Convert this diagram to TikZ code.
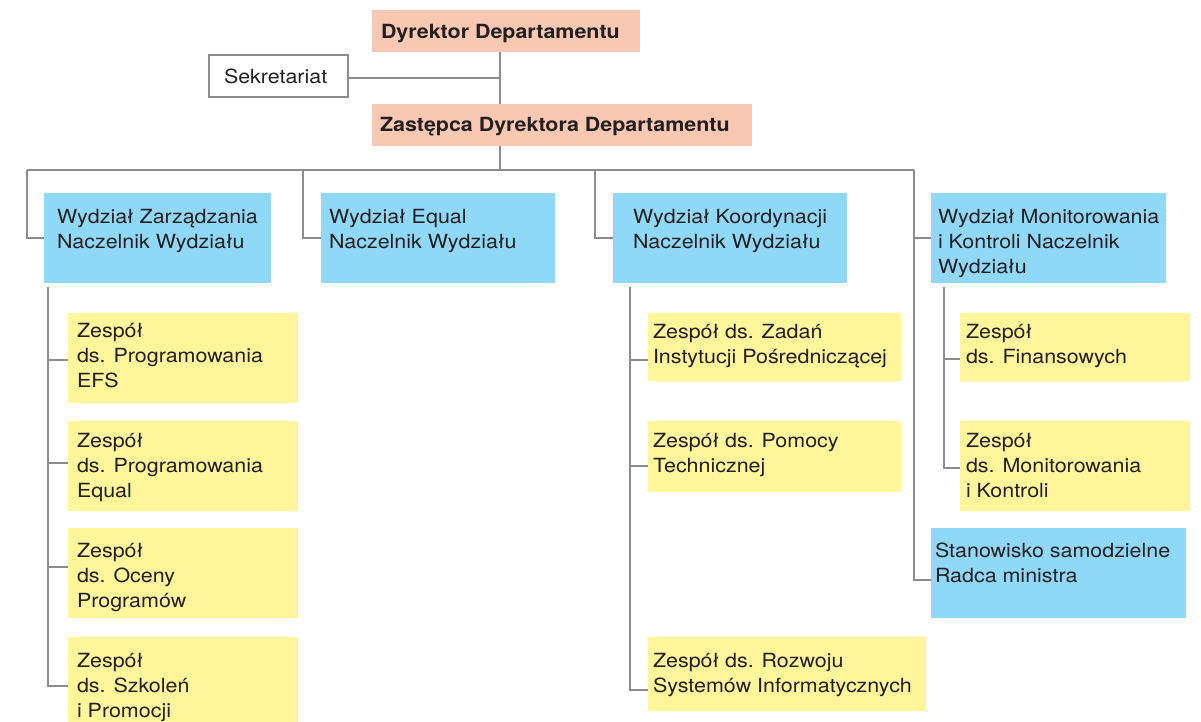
\documentclass[tikz,border=0pt]{standalone}
\usepackage{fontspec}
\setmainfont{TeX Gyre Heros}[FakeStretch=1.1]
\usetikzlibrary{calc}
\definecolor{salmon}{HTML}{F9C8B3}
\definecolor{sky}{HTML}{8FD8F7}
\definecolor{lemon}{HTML}{FFF59B}
\definecolor{linegray}{HTML}{8C8C8C}
\definecolor{ink}{HTML}{231F20}
\newcommand{\tstrut}{\rule{0pt}{18pt}}
\begin{document}
\begin{tikzpicture}[x=1pt,y=-1pt,
  boxbase/.style={anchor=north west, inner sep=0pt, outer sep=0pt},
  sbox/.style={boxbase, fill=salmon},
  bbox/.style={boxbase, fill=sky},
  ybox/.style={boxbase, fill=lemon},
  wbox/.style={boxbase, fill=white, draw=linegray, line width=1.2pt},
  txt/.style={anchor=north west, inner sep=0pt, outer sep=0pt, align=left, text=ink,
    font=\fontsize{19.5}{25}\selectfont},
  btxt/.style={txt, font=\fontsize{19.5}{25}\selectfont\bfseries},
  conn/.style={draw=linegray, line width=1.5pt}
]
\useasboundingbox (0,0) rectangle (1201,722);
\fill[white] (0,0) rectangle (1201,722);

% top level
\node[sbox, minimum width=268pt, minimum height=42pt] (dyr) at (372,10) {};
\node[btxt] (dyrt) at (381,21) {\tstrut Dyrektor Departamentu};
\node[wbox, minimum width=139pt, minimum height=42pt] (sek) at (209,55) {};
\node[txt] (sekt) at (224,66) {\tstrut Sekretariat};
\node[sbox, minimum width=380pt, minimum height=42pt] (zast) at (372,104) {};
\node[btxt] (zastt) at (380,114) {\tstrut Zastępca Dyrektora Departamentu};

% departments
\node[bbox, minimum width=227pt, minimum height=90pt] (wz) at (44,193) {};
\node[txt] (wzt) at (57,205) {\tstrut Wydział Zarządzania\\Naczelnik Wydziału};
\node[bbox, minimum width=234pt, minimum height=90pt] (we) at (321,193) {};
\node[txt] (wet) at (329,205) {\tstrut Wydział Equal\\Naczelnik Wydziału};
\node[bbox, minimum width=234pt, minimum height=90pt] (wk) at (613,193) {};
\node[txt] (wkt) at (633,205) {\tstrut Wydział Koordynacji\\Naczelnik Wydziału};
\node[bbox, minimum width=235pt, minimum height=90pt] (wm) at (931,193) {};
\node[txt] (wmt) at (938,205) {\tstrut Wydział Monitorowania\\i Kontroli Naczelnik\\Wydziału};
\node[bbox, minimum width=255pt, minimum height=90pt] (st) at (931,528) {};
\node[txt] (stt) at (935,539) {\tstrut Stanowisko samodzielne\\Radca ministra};

% column 1 teams
\node[ybox, minimum width=230pt, minimum height=90pt] (z1) at (68,313) {};
\node[txt] (z1t) at (77,319) {\tstrut Zespół\\ds. Programowania\\EFS};
\node[ybox, minimum width=230pt, minimum height=90pt] (z2) at (68,421) {};
\node[txt] (z2t) at (77,429) {\tstrut Zespół\\ds. Programowania\\Equal};
\node[ybox, minimum width=230pt, minimum height=90pt] (z3) at (68,528) {};
\node[txt] (z3t) at (77,539) {\tstrut Zespół\\ds. Oceny\\Programów};
\node[ybox, minimum width=230pt, minimum height=85pt] (z4) at (68,637) {};
\node[txt] (z4t) at (77,649) {\tstrut Zespół\\ds. Szkoleń\\i Promocji};

% column 3 teams
\node[ybox, minimum width=253pt, minimum height=68pt] (k1) at (648,313) {};
\node[txt] (k1t) at (653,320) {\tstrut Zespół ds. Zadań\\Instytucji Pośredniczącej};
\node[ybox, minimum width=253pt, minimum height=71pt] (k2) at (648,421) {};
\node[txt] (k2t) at (653,429) {\tstrut Zespół ds. Pomocy\\Technicznej};
\node[ybox, minimum width=278pt, minimum height=74pt] (k3) at (648,637) {};
\node[txt] (k3t) at (653,649) {\tstrut Zespół ds. Rozwoju\\Systemów Informatycznych};

% column 4 teams
\node[ybox, minimum width=230pt, minimum height=68pt] (m1) at (960,313) {};
\node[txt] (m1t) at (966,320) {\tstrut Zespół\\ds. Finansowych};
\node[ybox, minimum width=230pt, minimum height=90pt] (m2) at (960,421) {};
\node[txt] (m2t) at (966,429) {\tstrut Zespół\\ds. Monitorowania\\i Kontroli};

% connectors: top
\coordinate (s0) at (500,78);
\coordinate (bus) at (500,170);
\draw[conn] (dyr.south -| s0) -- (zast.north -| s0);
\draw[conn] (sek.east |- s0) -- (s0);
\draw[conn] (zast.south -| bus) -- (bus);
\coordinate (b1) at (27,170);
\coordinate (b2) at (303,170);
\coordinate (b3) at (595,170);
\coordinate (b4) at (914,170);
\draw[conn] (b1) -- (b4);
\draw[conn] (b1) |- (wz.west);
\draw[conn] (b2) |- (we.west);
\draw[conn] (b3) |- (wk.west);
\coordinate (stc) at ([yshift=-7pt]st.west);
\draw[conn] (b4) |- (stc);
\draw[conn] (b4 |- wm.west) -- (wm.west);

% column 1 connectors
\coordinate (c1) at (48,287);
\coordinate (z1c) at ([yshift=-2pt]z1.west);
\coordinate (z2c) at ([yshift=3pt]z2.west);
\coordinate (z3c) at ([yshift=6pt]z3.west);
\coordinate (z4c) at ([yshift=-6.5pt]z4.west);
\draw[conn] (c1) |- (z4c);
\draw[conn] (c1 |- z1c) -- (z1c);
\draw[conn] (c1 |- z2c) -- (z2c);
\draw[conn] (c1 |- z3c) -- (z3c);

% column 3 connectors
\coordinate (c3) at (630,287);
\coordinate (k1c) at ([yshift=-13pt]k1.west);
\coordinate (k2c) at ([yshift=-9.5pt]k2.west);
\coordinate (k3c) at ([yshift=-16pt]k3.west);
\draw[conn] (c3) |- (k3c);
\draw[conn] (c3 |- k1c) -- (k1c);
\draw[conn] (c3 |- k2c) -- (k2c);

% column 4 connectors
\coordinate (c4) at (944,287);
\coordinate (m1c) at ([yshift=-12pt]m1.west);
\coordinate (m2c) at ([yshift=-2pt]m2.west);
\draw[conn] (c4) |- (m2c);
\draw[conn] (c4 |- m1c) -- (m1c);
\end{tikzpicture}
\end{document}
